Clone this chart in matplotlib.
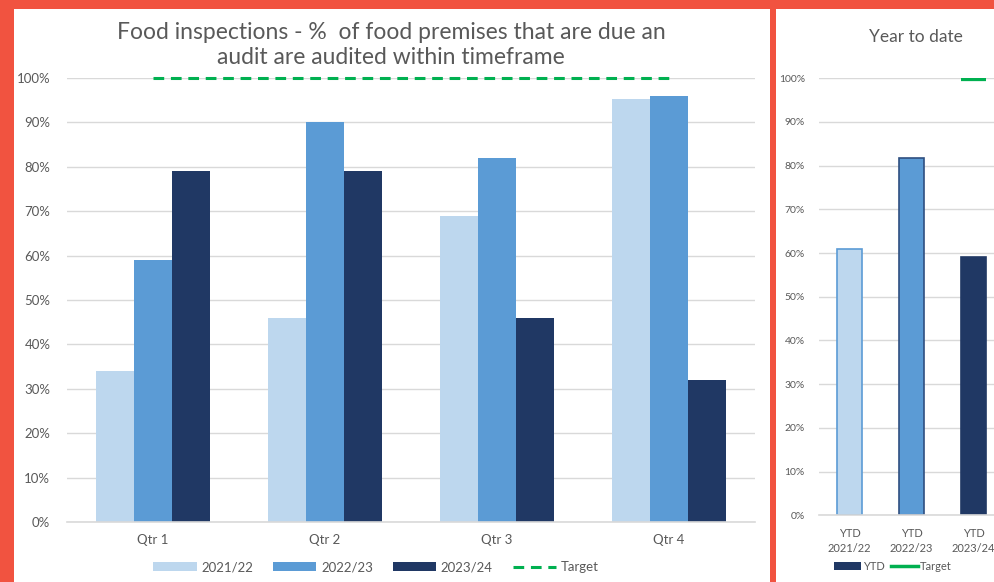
import matplotlib
matplotlib.use("Agg")
import matplotlib.pyplot as plt
import numpy as np
from matplotlib.patches import Rectangle, Patch
from matplotlib.lines import Line2D
from matplotlib.ticker import PercentFormatter

# data
quarters = ["Qtr 1", "Qtr 2", "Qtr 3", "Qtr 4"]
series_names = ["2021/22", "2022/23", "2023/24"]
vals_2122 = [34, 46, 69, 95.3]
vals_2223 = [59, 90, 82, 96]
vals_2324 = [79, 79, 46, 32]
target = [100, 100, 100, 100]

ytd_labels = ["YTD\n2021/22", "YTD\n2022/23", "YTD\n2023/24"]
ytd_vals = [61, 81.7, 59]
ytd_target = 100

colors = ["#BDD7EE", "#5B9BD5", "#203864"]
edge_colors = ["#5B9BD5", "#2F4F80", "#203864"]
green = "#00B050"
grey_txt = "#595959"
grid_col = "#D9D9D9"
bg_red = "#F15340"

plt.rcParams["font.family"] = ["Lato", "DejaVu Sans"]

W, H = 994, 582
fig = plt.figure(figsize=(W / 100, H / 100), dpi=100, facecolor=bg_red)

# white panels (behind the axes)
fig.patches.append(Rectangle((14 / W, 0), (770 - 14) / W, (H - 9) / H,
                             transform=fig.transFigure, facecolor="white", edgecolor="none", zorder=-5))
fig.patches.append(Rectangle((776 / W, 0), (W - 776) / W, (H - 9) / H,
                             transform=fig.transFigure, facecolor="white", edgecolor="none", zorder=-5))


def style_axis(ax, fs):
    ax.set_facecolor("none")
    for s in ["top", "right", "left"]:
        ax.spines[s].set_visible(False)
    ax.spines["bottom"].set_color(grid_col)
    ax.spines["bottom"].set_linewidth(1.2)
    ax.set_ylim(0, 100)
    ax.set_yticks(np.arange(0, 101, 10))
    ax.yaxis.set_major_formatter(PercentFormatter(decimals=0))
    ax.grid(axis="y", color=grid_col, linewidth=1.0)
    ax.set_axisbelow(True)
    ax.tick_params(axis="both", length=0, colors=grey_txt, labelsize=fs)


# main chart
ax = fig.add_axes([67 / W, (H - 522) / H, 688 / W, 444 / H])
style_axis(ax, 9.5)
x = np.arange(len(quarters))
w = 0.2227
for i, vals in enumerate([vals_2122, vals_2223, vals_2324]):
    ax.bar(x + (i - 1) * w, vals, width=w, color=colors[i], label=series_names[i], zorder=2)
ax.plot(x, target, color=green, linewidth=2.2, linestyle=(0, (3.5, 2.2)), zorder=3, clip_on=False)
ax.set_xlim(-0.5, len(quarters) - 0.5)
ax.set_xticks(x)
ax.set_xticklabels(quarters)
ax.tick_params(axis="x", pad=9)
ax.tick_params(axis="y", pad=12)

fig.text(391 / W, 1 - 45 / H,
         "Food inspections - %  of food premises that are due an\naudit are audited within timeframe",
         ha="center", va="center", fontsize=16.5, color=grey_txt, linespacing=1.2)

handles = [Patch(facecolor=c, edgecolor="none") for c in colors]
handles.append(Line2D([0], [0], color=green, linewidth=2.2, linestyle=(0, (3.5, 2.2))))
fig.legend(handles, series_names + ["Target"], loc="center", bbox_to_anchor=(376 / W, 1 - 567 / H),
           ncol=4, frameon=False, fontsize=9.5, handlelength=3.3, handleheight=0.6,
           columnspacing=1.5, handletextpad=0.35, labelcolor=grey_txt)

# year to date chart
ax2 = fig.add_axes([818.7 / W, (H - 515.3) / H, 186 / W, 437 / H])
style_axis(ax2, 7.5)
x2 = np.arange(len(ytd_vals))
w2 = 0.41
ax2.bar(x2, ytd_vals, width=w2, color=colors, edgecolor=edge_colors, linewidth=1.2, zorder=2)
ax2.hlines(ytd_target, x2[-1] - w2 / 2, x2[-1] + w2 / 2, color=green, linewidth=4.5, zorder=3)
ax2.set_xlim(-0.5, len(ytd_vals) - 0.5)
ax2.set_xticks(x2)
ax2.set_xticklabels(ytd_labels, linespacing=1.45, fontsize=8)
ax2.tick_params(axis="x", pad=9)
ax2.tick_params(axis="y", pad=10)

fig.text(916 / W, 1 - 37 / H, "Year to date", ha="center", va="center", fontsize=12.5, color=grey_txt)

h2 = [Patch(facecolor=colors[2], edgecolor="none"),
      Line2D([0], [0], color=green, linewidth=2.5)]
fig.legend(h2, ["YTD", "Target"], loc="center", bbox_to_anchor=(893 / W, 1 - 566 / H),
           ncol=2, frameon=False, fontsize=8, handlelength=2.4, handleheight=0.7,
           columnspacing=0.6, handletextpad=0.2, labelcolor=grey_txt)

fig.savefig("out.png", dpi=100, facecolor=bg_red)
